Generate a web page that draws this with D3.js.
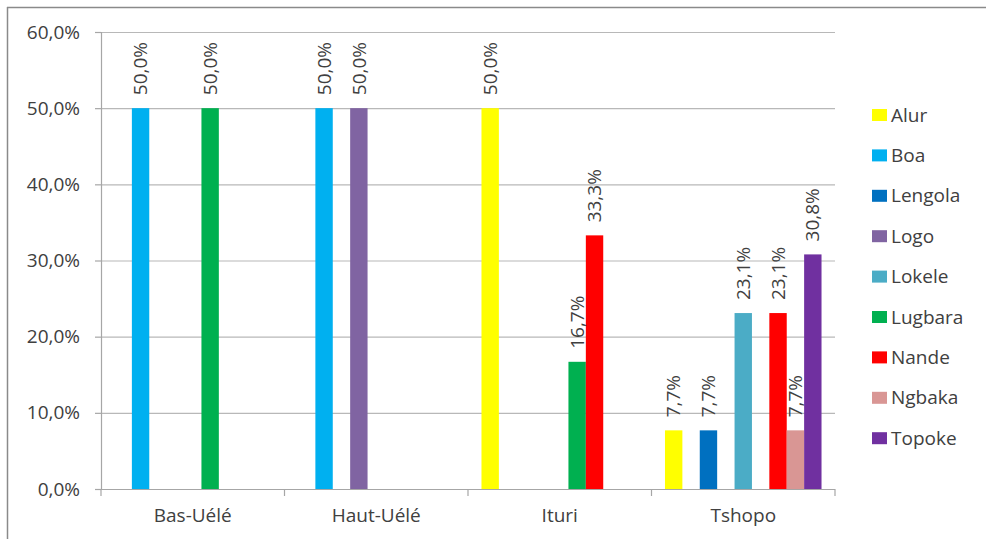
<!DOCTYPE html>
<html>
<head>
<meta charset="utf-8">
<script src="https://cdn.jsdelivr.net/npm/d3@7"></script>
<style>
  html, body { margin: 0; padding: 0; background: #fff; }
  svg { display: block; }
  text { font-family: "Open Sans", Lato, sans-serif; fill: #404040; }
</style>
</head>
<body>
<svg id="chart" width="986" height="539"></svg>
<script>
// Provinces along the category axis
const provinces = ["Bas-Uélé", "Haut-Uélé", "Ituri", "Tshopo"];

// Ethnic groups (one bar series each) and their fill colours
const groups = ["Alur", "Boa", "Lengola", "Logo", "Lokele", "Lugbara", "Nande", "Ngbaka", "Topoke"];
const groupColors = ["#FFFF00", "#00B0F0", "#0070C0", "#8064A2", "#4BACC6", "#00B050", "#FF0000", "#D99694", "#7030A0"];

// Share (%) of each group per province; null = no bar
const alur    = [null, null, 50.0, 7.7];
const boa     = [50.0, 50.0, null, null];
const lengola = [null, null, null, 7.7];
const logo    = [null, 50.0, null, null];
const lokele  = [null, null, null, 23.1];
const lugbara = [50.0, null, 16.7, null];
const nande   = [null, null, 33.3, 23.1];
const ngbaka  = [null, null, null, 7.7];
const topoke  = [null, null, null, 30.8];
const seriesValues = [alur, boa, lengola, logo, lokele, lugbara, nande, ngbaka, topoke];

// Value axis ticks
const yTicks = [0, 10, 20, 30, 40, 50, 60];

const svg = d3.select("#chart");
const margin = { left: 101, right: 151, top: 32, bottom: 50 };
const W = 986, H = 539;
const plotW = W - margin.left - margin.right;
const plotH = H - margin.top - margin.bottom;
const FONT = 19;

const fmt = v => d3.format(".1f")(v).replace(".", ",") + "%";

// Outer frame (top and left edges)
svg.append("line").attr("x1", 7).attr("x2", W).attr("y1", 7.5).attr("y2", 7.5)
  .attr("stroke", "#8a8a8a").attr("stroke-width", 1.5);
svg.append("line").attr("x1", 7.5).attr("x2", 7.5).attr("y1", 7).attr("y2", H)
  .attr("stroke", "#8a8a8a").attr("stroke-width", 1.5);

const g = svg.append("g").attr("transform", `translate(${margin.left},${margin.top})`);

const x0 = d3.scaleBand().domain(provinces).range([0, plotW]).paddingInner(0).paddingOuter(0);
const x1 = d3.scaleBand().domain(groups).range([0, x0.bandwidth()]).paddingInner(0).paddingOuter(0.775);
const y = d3.scaleLinear().domain([0, 60]).range([plotH, 0]);

// Horizontal gridlines
g.append("g").selectAll("line").data(yTicks.filter(t => t > 0)).join("line")
  .attr("x1", 0).attr("x2", plotW)
  .attr("y1", d => y(d) + 0.5).attr("y2", d => y(d) + 0.5)
  .attr("stroke", "#b8b8b8").attr("stroke-width", 1.2);

// Value axis
const yAxis = g.append("g")
  .call(d3.axisLeft(y).tickValues(yTicks).tickSize(6).tickPadding(15).tickFormat(fmt));
yAxis.select(".domain").attr("stroke", "#a6a6a6").attr("stroke-width", 1.2);
yAxis.selectAll(".tick line").attr("stroke", "#a6a6a6").attr("stroke-width", 1.2);
yAxis.selectAll(".tick text").attr("font-size", FONT).attr("fill", "#404040")
  .style("font-family", "'Open Sans', Lato, sans-serif");

// Bars
const bars = [];
provinces.forEach((p, pi) => {
  groups.forEach((gr, gi) => {
    const v = seriesValues[gi][pi];
    if (v != null) bars.push({ province: p, group: gr, color: groupColors[gi], value: v });
  });
});

g.append("g").selectAll("rect").data(bars).join("rect")
  .attr("x", d => x0(d.province) + x1(d.group))
  .attr("width", x1.bandwidth())
  .attr("y", d => y(d.value))
  .attr("height", d => plotH - y(d.value))
  .attr("fill", d => d.color);

// Rotated value labels above each bar
g.append("g").selectAll("text").data(bars).join("text")
  .attr("transform", d => `translate(${x0(d.province) + x1(d.group) + x1.bandwidth() / 2},${y(d.value) - 13}) rotate(-90)`)
  .attr("text-anchor", "start")
  .attr("dy", "0.35em")
  .attr("font-size", FONT)
  .text(d => fmt(d.value));

// Category axis
const xAxis = g.append("g").attr("transform", `translate(0,${plotH})`)
  .call(d3.axisBottom(x0).tickSize(0).tickPadding(20));
xAxis.select(".domain").remove();
xAxis.selectAll(".tick text").attr("font-size", FONT).attr("fill", "#404040")
  .style("font-family", "'Open Sans', Lato, sans-serif");
g.append("line").attr("x1", 0).attr("x2", plotW).attr("y1", plotH + 0.5).attr("y2", plotH + 0.5)
  .attr("stroke", "#a6a6a6").attr("stroke-width", 1.2);
const edges = provinces.map(p => x0(p)).concat([plotW]);
g.append("g").selectAll("line").data(edges).join("line")
  .attr("x1", d => d).attr("x2", d => d)
  .attr("y1", plotH).attr("y2", plotH + 7)
  .attr("stroke", "#a6a6a6").attr("stroke-width", 1.2);

// Legend
const legend = svg.append("g").attr("transform", "translate(872,115)");
const item = legend.selectAll("g").data(groups).join("g")
  .attr("transform", (d, i) => `translate(0,${i * 40.4})`);
item.append("rect").attr("x", 0).attr("y", -6).attr("width", 15).attr("height", 12)
  .attr("fill", (d, i) => groupColors[i]);
item.append("text").attr("x", 19).attr("y", 0).attr("dy", "0.35em")
  .attr("font-size", FONT).text(d => d);
</script>
</body>
</html>
